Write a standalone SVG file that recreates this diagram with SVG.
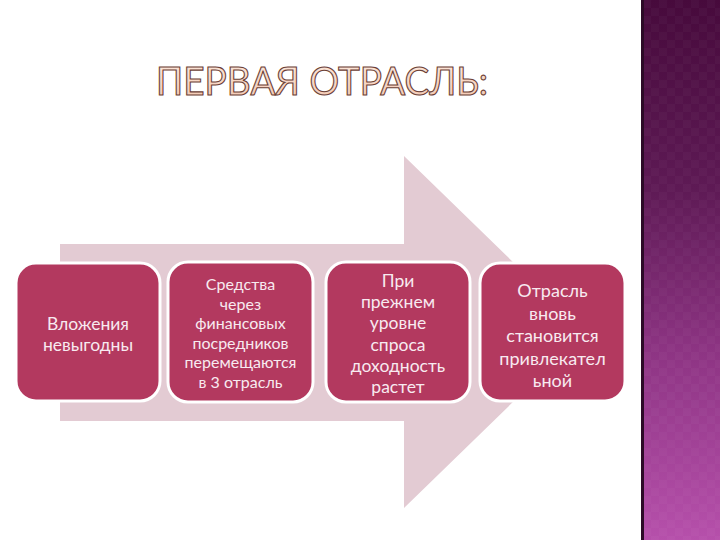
<svg xmlns="http://www.w3.org/2000/svg" width="720" height="540" viewBox="0 0 720 540">
<defs>
<linearGradient id="strip" x1="0" y1="0" x2="0" y2="1">
<stop offset="0" stop-color="#470a3c"/>
<stop offset="0.35" stop-color="#5e1a55"/>
<stop offset="0.65" stop-color="#8d3483"/>
<stop offset="1" stop-color="#b650ab"/>
</linearGradient>
<pattern id="checks" width="16" height="16" patternUnits="userSpaceOnUse" x="643">
<rect x="0" y="0" width="8" height="8" fill="#ffffff" opacity="0.025"/>
<rect x="8" y="8" width="8" height="8" fill="#ffffff" opacity="0.025"/>
</pattern>
<linearGradient id="titleFill" x1="0" y1="0" x2="0" y2="1">
<stop offset="0" stop-color="#fdebe0"/>
<stop offset="1" stop-color="#f2c5ae"/>
</linearGradient>
</defs>
<style>
.box{fill:#b3395f;stroke:#ffffff;stroke-width:3}
.t{font-family:Lato,"Open Sans","DejaVu Sans",sans-serif;fill:#f8eaf0;text-anchor:middle}
.title{font-family:Lato,"DejaVu Sans",sans-serif;font-size:38px;fill:url(#titleFill);stroke:#6b4036;stroke-width:1.1}
</style>
<rect width="720" height="540" fill="#ffffff"/>
<g id="side-strip">
<rect x="641" y="0" width="79" height="540" fill="url(#strip)"/>
<rect x="641" y="0" width="79" height="540" fill="url(#checks)"/>
<rect x="641" y="0" width="3" height="540" fill="#2c0a27"/>
</g>
<text class="title" x="156" y="95" textLength="332" lengthAdjust="spacingAndGlyphs">ПЕРВАЯ ОТРАСЛЬ:</text>
<g id="connectors">
<polygon id="big-arrow" points="60,244 404,244 404,156 585,332 404,508 404,421 60,421" fill="#e3cbd3"/>
</g>
<g id="node1">
<rect class="box" x="16" y="263" width="144" height="138" rx="20"/>
<text class="t" font-size="17.5"><tspan x="88" y="330">Вложения</tspan><tspan x="88" y="351">невыгодны</tspan></text>
</g>
<g id="node2">
<rect class="box" x="168" y="262" width="145" height="140" rx="20"/>
<text class="t" font-size="16"><tspan x="240.5" y="290">Средства</tspan><tspan x="240.5" y="309.5">через</tspan><tspan x="240.5" y="329">финансовых</tspan><tspan x="240.5" y="348.5">посредников</tspan><tspan x="240.5" y="368">перемещаются</tspan><tspan x="240.5" y="387.5">в 3 отрасль</tspan></text>
</g>
<g id="node3">
<rect class="box" x="326" y="262" width="144" height="140" rx="20"/>
<text class="t" font-size="17.5"><tspan x="398" y="287">При</tspan><tspan x="398" y="308.2">прежнем</tspan><tspan x="398" y="329.4">уровне</tspan><tspan x="398" y="350.6">спроса</tspan><tspan x="398" y="371.8">доходность</tspan><tspan x="398" y="393">растет</tspan></text>
</g>
<g id="node4">
<rect class="box" x="480" y="263" width="145" height="138" rx="20"/>
<text class="t" font-size="18"><tspan x="552.5" y="297">Отрасль</tspan><tspan x="552.5" y="319.5">вновь</tspan><tspan x="552.5" y="342">становится</tspan><tspan x="552.5" y="364.5">привлекател</tspan><tspan x="552.5" y="387">ьной</tspan></text>
</g>
</svg>
